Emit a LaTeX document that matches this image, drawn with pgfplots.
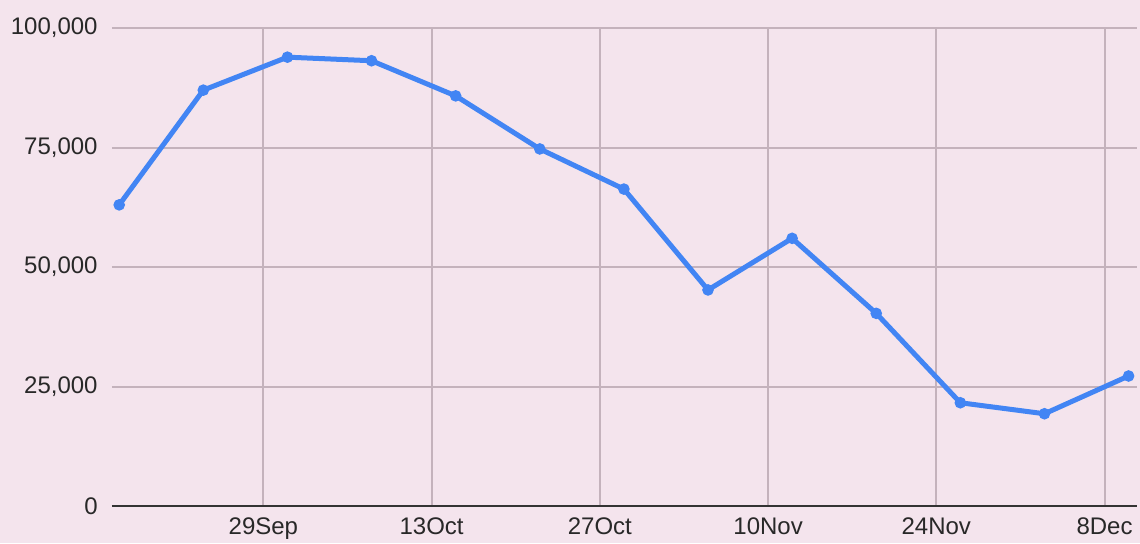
\documentclass[border=0pt]{standalone}
\usepackage{fontspec}
\setmainfont{Liberation Sans}
\usepackage{pgfplots}
\pgfplotsset{compat=1.18}
\definecolor{bgpink}{RGB}{244,228,237}
\definecolor{gridc}{RGB}{196,178,188}
\definecolor{lineblue}{RGB}{66,133,244}
\definecolor{txt}{RGB}{40,40,40}
\begin{document}
\begin{tikzpicture}
\path[use as bounding box, fill=bgpink] (-56pt,-18.5pt) rectangle (514pt,253pt);
\begin{axis}[
  at={(0,0)}, anchor=south west,
  scale only axis, width=512.5pt, height=239pt,
  xmin=-12.6, xmax=72.7, ymin=0, ymax=100000,
  xtick={0,14,28,42,56,70},
  xticklabels={29Sep,13Oct,27Oct,10Nov,24Nov,8Dec},
  ytick={0,25000,50000,75000,100000},
  yticklabels={0,{25,000},{50,000},{75,000},{100,000}},
  scaled y ticks=false,
  major tick length=0pt,
  grid=major,
  major grid style={gridc, line width=1pt},
  axis line style={draw=none},
  tick label style={font=\fontsize{12}{14}\selectfont, text=txt},
  yticklabel style={inner sep=0pt, xshift=-7pt},
  xticklabel style={inner sep=0pt, yshift=-5.5pt},
  clip=false,
]
\draw[black!80, line width=1pt] (rel axis cs:0,0) -- (rel axis cs:1,0);
\addplot[lineblue, line width=2.5pt, mark=*, mark size=2.6pt, mark options={fill=lineblue, draw=lineblue, line width=0.6pt}] coordinates {
(-12,63000) (-5,87000) (2,93900) (9,93150) (16,85800) (23,74700) (30,66300)
(37,45200) (44,56000) (51,40300) (58,21600) (65,19300) (72,27200)
};
\end{axis}
\end{tikzpicture}
\end{document}
